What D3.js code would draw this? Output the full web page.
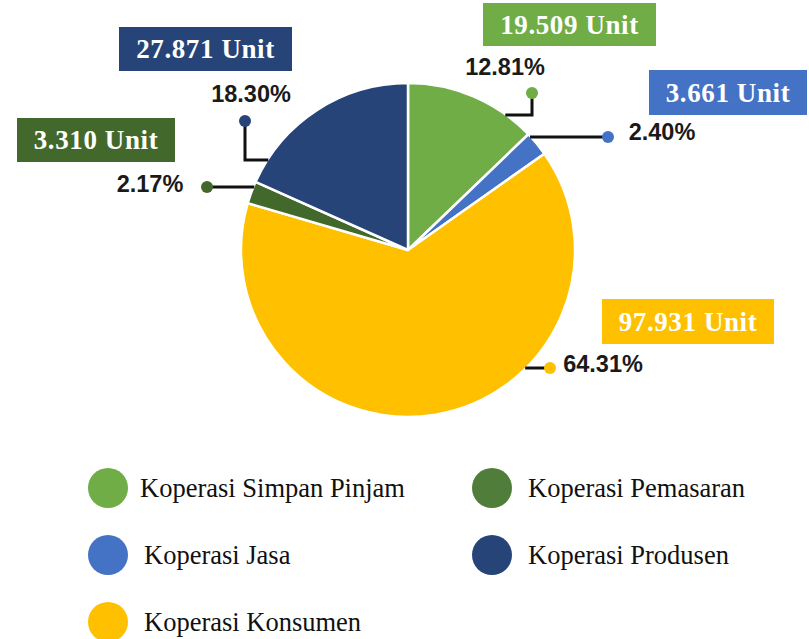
<!DOCTYPE html>
<html>
<head>
<meta charset="utf-8">
<script src="https://cdn.jsdelivr.net/npm/d3@7"></script>
<style>
	body { margin: 0; background: #fff; }
	svg { display: block; }
</style>
</head>
<body>
<script>
	/******************/
	/*     data       */
	/******************/
	var categories = ["Koperasi Simpan Pinjam", "Koperasi Jasa", "Koperasi Konsumen", "Koperasi Pemasaran", "Koperasi Produsen"];
	var units = [19509, 3661, 97931, 3310, 27871];
	var unitLabels = ["19.509 Unit", "3.661 Unit", "97.931 Unit", "3.310 Unit", "27.871 Unit"];
	var percentLabels = ["12.81%", "2.40%", "64.31%", "2.17%", "18.30%"];
	var colors = ["#70AD47", "#4472C4", "#FFC000", "#43682B", "#264478"];

	/******************/
	/*    layout      */
	/******************/
	var width = 809, height = 639;
	var cx = 408, cy = 250, radius = 167;
	// placement of the callouts (box, percent text, leader dot)
	// kind "vh" : dot -> down -> across to the pie ; "h" : dot -> straight to the pie
	var callouts = [
		{box: [483, 3, 173, 43], pct: [505, 75], dot: [532, 93], elbowY: 115, kind: "vh"},
		{box: [649, 70, 158, 45], pct: [662, 140], dot: [608, 137], kind: "h"},
		{box: [602, 299, 172, 45], pct: [603, 372], dot: [550, 368], kind: "h"},
		{box: [17, 118, 158, 44], pct: [150, 192], dot: [207, 187], kind: "h"},
		{box: [119, 27, 173, 44], pct: [251, 102], dot: [245, 121], elbowY: 160, kind: "vh"}
	];
	// legend grid : [x of circle, y of circle]
	var legendPos = [[108, 488], [108, 555], [108, 622], [492, 488], [492, 555]];

	var svg = d3.select("body")
		.append("svg")
		.attr("width", width)
		.attr("height", height);

	/******************/
	/*    d3 draw     */
	/******************/
	var pie = d3.pie().sort(null).value(function(d) { return d; });
	var arc = d3.arc().innerRadius(0).outerRadius(radius);
	var arcs = pie(units);

	var g = svg.append("g").attr("transform", "translate(" + cx + "," + cy + ")");
	g.selectAll("path.slice")
		.data(arcs)
		.enter()
		.append("path")
		.attr("class", "slice")
		.attr("d", arc)
		.attr("fill", function(d, i) { return colors[i]; })
		.attr("stroke", "#fff")
		.attr("stroke-width", 2.5)
		.attr("stroke-linejoin", "round");

	//x where a horizontal line at y meets the pie border, on the side of px
	function edgeX(y, px) {
		var dy = y - cy;
		var dx = Math.sqrt(Math.max(0, radius * radius - dy * dy)) - 1;
		return px > cx ? cx + dx : cx - dx;
	}

	var line = d3.line();
	callouts.forEach(function(c, i) {
		var pts;
		if (c.kind === "vh") {
			pts = [c.dot, [c.dot[0], c.elbowY], [edgeX(c.elbowY, c.dot[0]), c.elbowY]];
		} else {
			pts = [c.dot, [edgeX(c.dot[1], c.dot[0]), c.dot[1]]];
		}
		svg.append("path")
			.attr("d", line(pts))
			.attr("fill", "none")
			.attr("stroke", "#111")
			.attr("stroke-width", 3);
		svg.append("circle")
			.attr("cx", c.dot[0])
			.attr("cy", c.dot[1])
			.attr("r", 6)
			.attr("fill", colors[i]);

		//percent text
		svg.append("text")
			.attr("x", c.pct[0])
			.attr("y", c.pct[1])
			.attr("text-anchor", "middle")
			.attr("font-family", "'Liberation Sans', Arial, sans-serif")
			.attr("font-weight", "bold")
			.attr("font-size", 23.5)
			.attr("fill", "#1a1a1a")
			.text(percentLabels[i]);

		//unit box
		svg.append("rect")
			.attr("x", c.box[0])
			.attr("y", c.box[1])
			.attr("width", c.box[2])
			.attr("height", c.box[3])
			.attr("fill", colors[i]);
		svg.append("text")
			.attr("x", c.box[0] + c.box[2] / 2)
			.attr("y", c.box[1] + c.box[3] / 2 + 9)
			.attr("text-anchor", "middle")
			.attr("font-family", "'Liberation Serif', 'Times New Roman', serif")
			.attr("font-weight", "bold")
			.attr("font-size", 27)
			.attr("letter-spacing", 0.6)
			.attr("fill", "#fff")
			.text(unitLabels[i]);
	});

	/******************/
	/*    legend      */
	/******************/
	var legend = svg.selectAll("g.legend")
		.data(categories)
		.enter()
		.append("g")
		.attr("class", "legend")
		.attr("transform", function(d, i) { return "translate(" + legendPos[i][0] + "," + legendPos[i][1] + ")"; });
	legend.append("ellipse")
		.attr("rx", 20)
		.attr("ry", 20)
		.attr("fill", function(d, i) { return i === 3 ? "#507E3A" : colors[i]; });
	legend.append("text")
		.attr("x", function(d, i) { return i === 0 ? 32 : 36; })
		.attr("y", 9)
		.attr("font-family", "'Liberation Serif', 'Times New Roman', serif")
		.attr("font-size", 26.5)
		.attr("fill", "#111")
		.text(function(d) { return d; });
</script>
</body>
</html>
